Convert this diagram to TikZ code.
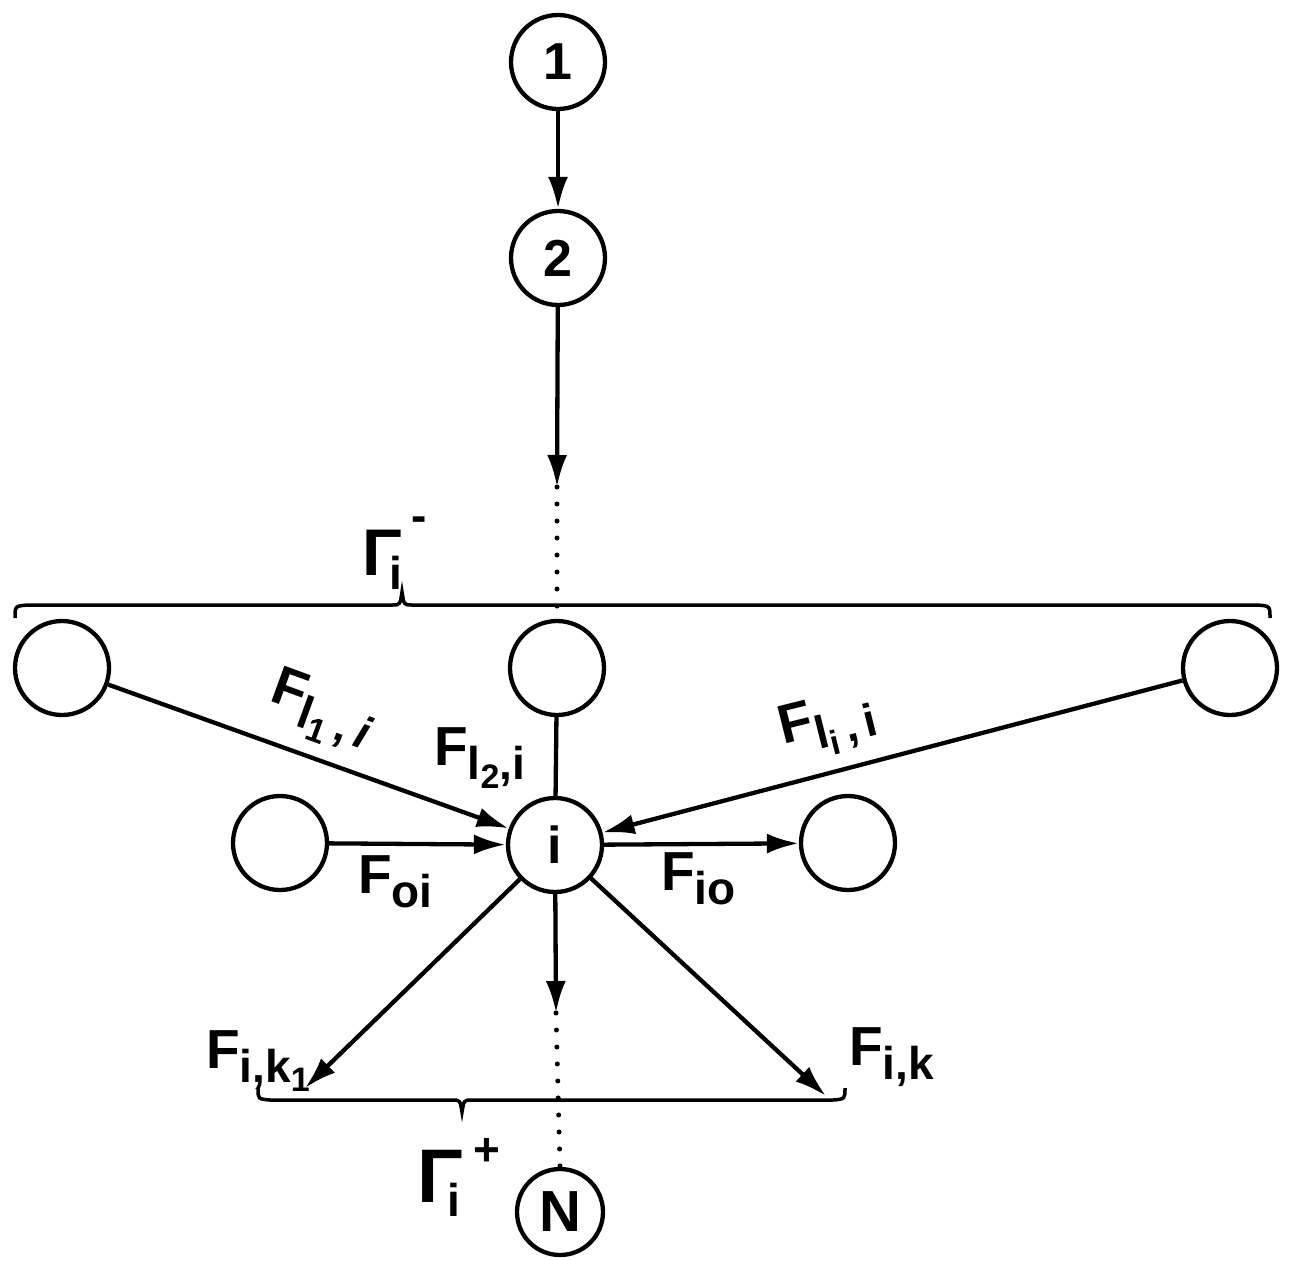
\documentclass[tikz,border=0pt]{standalone}
\usepackage{fontspec}
\setmainfont{Liberation Sans}
\usetikzlibrary{arrows.meta}
\newcommand{\sbs}[1]{\raisebox{-14pt}{\fontsize{46}{46}\selectfont\bfseries #1}}
\newcommand{\ssbs}[1]{\raisebox{-9pt}{\fontsize{34}{34}\selectfont\bfseries #1}}
\begin{document}
\begin{tikzpicture}[x=1pt,y=-1pt, line width=4.3pt, >={Latex[length=32pt,width=20pt]},
 circ/.style={circle,draw,line width=4.3pt,minimum size=94pt,inner sep=0pt,font=\fontsize{52}{52}\selectfont\bfseries},
 lbl/.style={inner sep=0pt,font=\fontsize{55}{55}\selectfont\bfseries},
 dots/.style={line width=5pt,line cap=round,dash pattern=on 0pt off 17pt}]
\useasboundingbox (0,0) rectangle (1292,1260);
% nodes
\node[circ] (n1) at (558,62) {1};
\node[circ] (n2) at (558,258) {2};
\node[circ] (m) at (557,668) {};
\node[circ] (lc) at (62,668) {};
\node[circ] (rc) at (1230,668) {};
\node[circ] (i) at (555,845) {i};
\node[circ] (lm) at (280,843) {};
\node[circ] (rm) at (848,843) {};
\node[circ,minimum size=86pt,font=\fontsize{58}{58}\selectfont\bfseries] (N) at (560,1212) {N};
\coordinate (d1) at (557,487);
\coordinate (d2) at (556,1013);
\coordinate (k1) at (305,1088);
\coordinate (k) at (826,1096);
% connectors
\draw[->] (n1) -- (n2);
\draw[->] (n2) -- (d1);
\draw[dots] (d1) -- (m.north);
\draw[->] (lc) -- (i);
\draw (m) -- (i);
\draw[->] (rc) -- (i);
\draw[->] (lm) -- (i);
\draw[->] (i) -- (rm);
\draw[->] (i) -- (k1);
\draw[->] (i) -- (d2);
\draw[dots] (d2) -- (N.north);
\draw[->] (i) -- (k);
% braces
\draw[line width=3.5pt] (15,618) .. controls (15,606) .. (28,605) -- (392,605)
  .. controls (400,605) .. (402,592) .. controls (404,605) .. (412,605)
  -- (1257,605) .. controls (1270,606) .. (1270,618);
\draw[line width=3.5pt] (258,1088) .. controls (258,1099) .. (270,1100) -- (452,1100)
  .. controls (460,1100) .. (462,1112) .. controls (464,1100) .. (472,1100)
  -- (833,1100) .. controls (845,1099) .. (845,1088);
% labels
\node[lbl,rotate=-20,anchor=base west] (t1) at (266,700) {F\sbs{l\ssbs{1}\,,\,\textit{i}}};
\node[lbl,anchor=base west] (t2) at (432,765) {F\sbs{l\ssbs{2},i}};
\node[lbl,rotate=14,anchor=base west] (t3) at (781,745) {F\sbs{l\ssbs{i}\,,\,i}};
\node[lbl,anchor=base west] (t4) at (356,893) {F\sbs{oi}};
\node[lbl,anchor=base west] (t5) at (659,890) {F\sbs{io}};
\node[lbl,anchor=base west] (t6) at (204,1068) {F\sbs{i,k\ssbs{1}}};
\node[lbl,anchor=base west] (t7) at (847,1065) {F\sbs{i,k}};
\node[lbl,anchor=base west,font=\fontsize{66}{66}\selectfont\bfseries] (g1) at (360,575) {Γ\kern-12pt\sbs{i}\kern9pt\raisebox{44pt}{\fontsize{46}{46}\selectfont\bfseries -}};
\node[lbl,anchor=base west,font=\fontsize{76}{76}\selectfont\bfseries] (g2) at (415,1202) {Γ\kern-15pt\sbs{i}\kern13pt\raisebox{37pt}{\fontsize{46}{46}\selectfont\bfseries +}};
\end{tikzpicture}
\end{document}
